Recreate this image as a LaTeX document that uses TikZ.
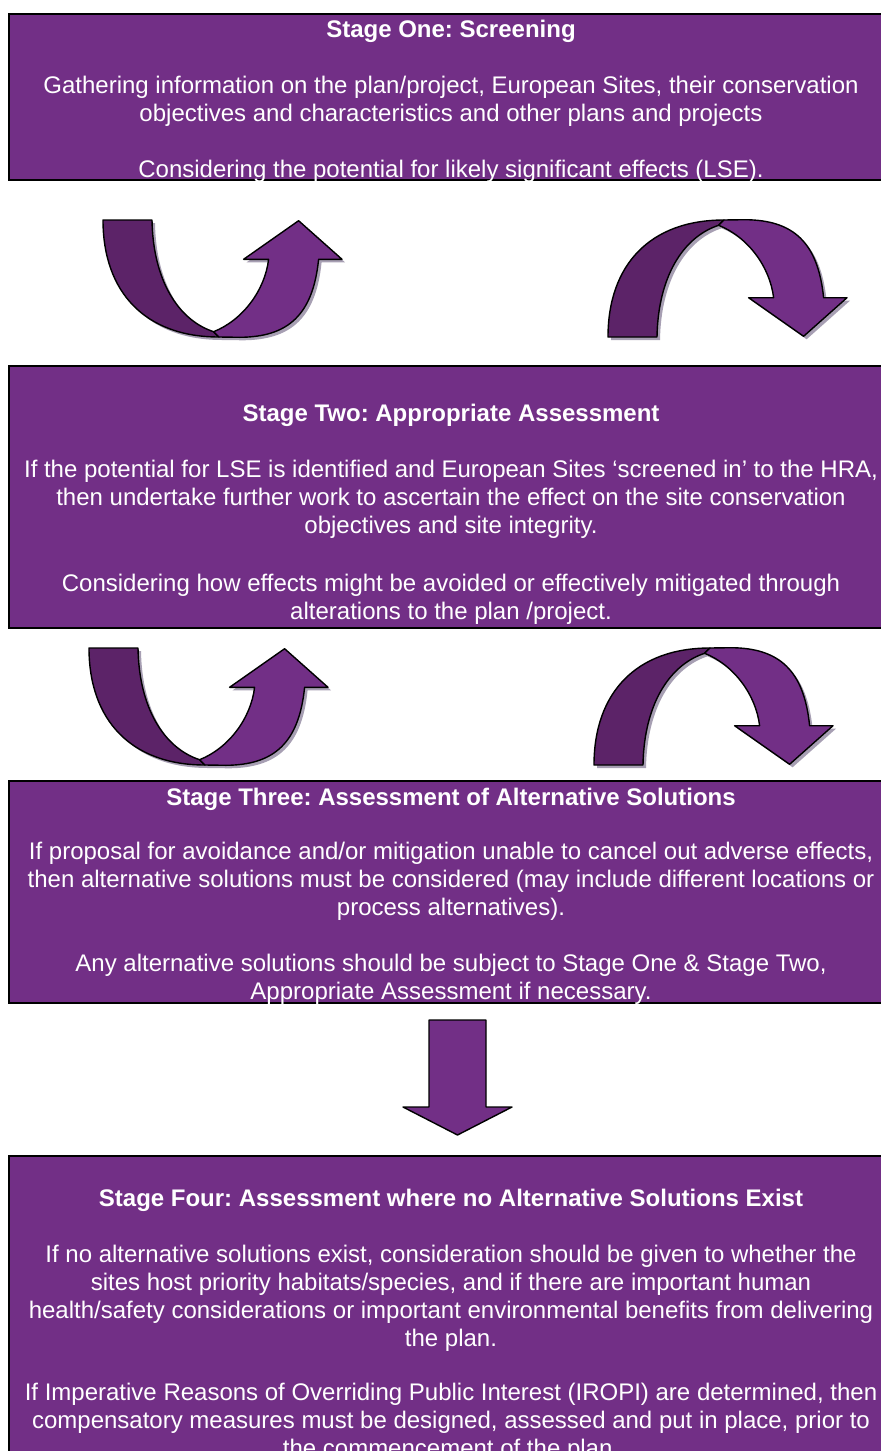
\documentclass[tikz,border=0pt]{standalone}
\usepackage{fontspec}
\setmainfont{Liberation Sans}
\frenchspacing
\usepackage{tikz}
\usetikzlibrary{positioning, fit}
\definecolor{hrapurple}{HTML}{722F86}
\definecolor{hradark}{HTML}{5C2368}
\definecolor{hrashadow}{HTML}{A79FB3}
% ribbon u-turn: origin x, origin y, yscale (-1 flips it)
\newcommand{\uturn}[3]{%
\fill[bandshadow, shift={(#1+3,#2+3)}, yscale=#3] (0,0) .. controls (0,72) and (42,117) .. (116,117) -- (137,117.3) .. controls (185,117) and (210,95) .. (215.6,39.3) -- (239,39.3) -- (195.6,0.7) -- (140.6,39.3) -- (165.6,39.3) .. controls (162,70) and (140,100) .. (110.6,111.7) .. controls (75,100) and (50,60) .. (49,0) -- cycle;
\draw[darkband, shift={(#1,#2)}, yscale=#3] (0,0) .. controls (0,72) and (42,117) .. (116,117) -- (110.6,111.7) .. controls (75,100) and (50,60) .. (49,0) -- cycle;
\draw[lightband, shift={(#1,#2)}, yscale=#3] (110.6,111.7) -- (116,117) -- (137,117.3) .. controls (185,117) and (210,95) .. (215.6,39.3) -- (239,39.3) -- (195.6,0.7) -- (140.6,39.3) -- (165.6,39.3) .. controls (162,70) and (140,100) .. (110.6,111.7) -- cycle;
}

\begin{document}
\begin{tikzpicture}[
    x=0.5pt, y=-0.5pt,
    stagebox/.style={draw=black, line width=1.2pt, fill=hrapurple, inner sep=0pt},
    stagetext/.style={text=white, align=center, inner sep=0pt, font=\fontsize{12}{14}\selectfont},
    darkband/.style={fill=hradark, draw=black, line width=0.7pt, line join=round},
    lightband/.style={fill=hrapurple, draw=black, line width=0.7pt, line join=round},
    bandshadow/.style={fill=hrashadow}
    ]
\clip (0,0) rectangle (881,1451);

\node[stagebox, fit={(9,14) (893,180)}] (stage1) {};
\node[stagetext, below=3.5pt of stage1.north] (text1) {\textbf{Stage One: Screening}\\[14pt]
Gathering information on the plan/project, European Sites, their conservation\\
objectives and characteristics and other plans and projects\\[14pt]
Considering the potential for likely significant effects (LSE).};

\node[stagebox, fit={(9,366) (893,628)}] (stage2) {};
\node[stagetext, below=19.5pt of stage2.north] (text2) {\textbf{Stage Two: Appropriate Assessment}\\[14pt]
If the potential for LSE is identified and European Sites ‘screened in’ to the HRA,\\
then undertake further work to ascertain the effect on the site conservation\\
objectives and site integrity.\\[15pt]
Considering how effects might be avoided or effectively mitigated through\\
alterations to the plan /project.};

\node[stagebox, fit={(9,781) (893,1003)}] (stage3) {};
\node[stagetext, below=4pt of stage3.north] (text3) {\textbf{Stage Three: Assessment of Alternative Solutions}\\[13pt]
If proposal for avoidance and/or mitigation unable to cancel out adverse effects,\\
then alternative solutions must be considered (may include different locations or\\
process alternatives).\\[14pt]
Any alternative solutions should be subject to Stage One \& Stage Two,\\
Appropriate Assessment if necessary.};

\node[stagebox, fit={(9,1156) (893,1480)}] (stage4) {};
\node[stagetext, below=17pt of stage4.north] (text4) {\textbf{Stage Four: Assessment where no Alternative Solutions Exist}\\[14pt]
If no alternative solutions exist, consideration should be given to whether the\\
sites host priority habitats/species, and if there are important human\\
health/safety considerations or important environmental benefits from delivering\\
the plan.\\[13pt]
If Imperative Reasons of Overriding Public Interest (IROPI) are determined, then\\
compensatory measures must be designed, assessed and put in place, prior to\\
the commencement of the plan.};

% u-turns between the stages
\uturn{103}{220}{1}
\uturn{608}{337}{-1}
\uturn{89}{648}{1}
\uturn{594}{765}{-1}

% straight down to stage four
\draw[lightband] (429,1020) -- (486,1020) -- (486,1107) -- (512,1107) -- (457.5,1135) -- (403,1107) -- (429,1107) -- cycle;
\end{tikzpicture}
\end{document}
